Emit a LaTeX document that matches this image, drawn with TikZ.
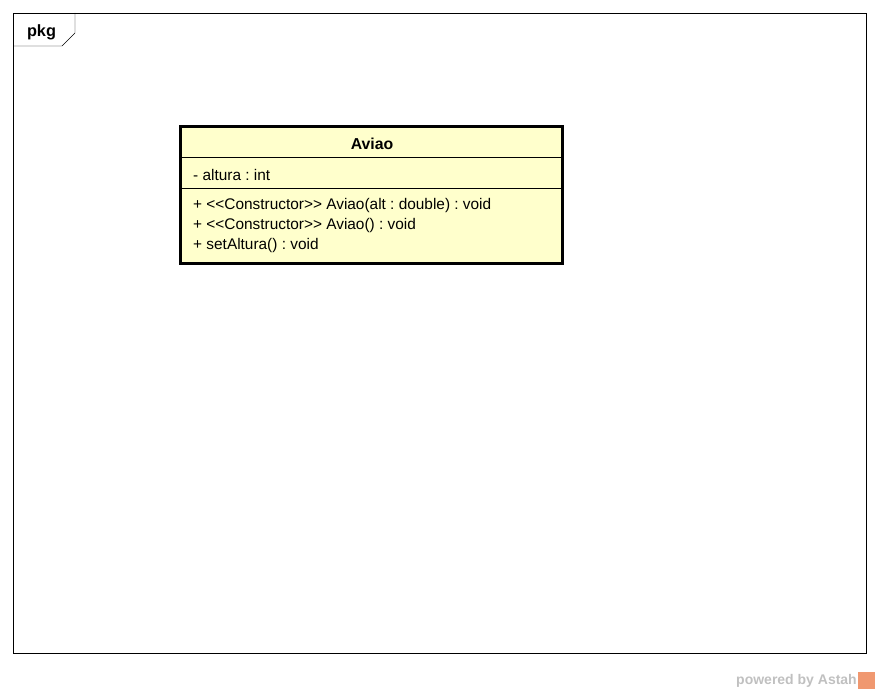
\documentclass[tikz,border=0pt]{standalone}
\usepackage{fontspec}
\setmainfont{Liberation Sans}
\usetikzlibrary{calc}
\definecolor{classfill}{RGB}{255,255,204}
\definecolor{wmgray}{RGB}{192,192,192}
\definecolor{wmorange}{RGB}{240,152,112}
\frenchspacing

\begin{document}
\begin{tikzpicture} [x=1pt, y=-1pt, member/.style={anchor=west, inner sep=0pt, font=\fontsize{15.4}{17}\selectfont}]
\useasboundingbox (0,0) rectangle (880,693);
\draw[black] (13,13) rectangle (866,653);
\draw[black] (13,46)--(62,46)--(75,33)--(75,13);
\node[font=\bfseries\fontsize{16.3}{18}\selectfont] (pkg) at (41.5,32) {pkg};
\draw[black, line width=3pt, fill=classfill] (180,126) rectangle (562,263);
\draw[black] (180,157)--(562,157);
\draw[black] (180,188)--(562,188);
\node[font=\bfseries\fontsize{15.8}{18}\selectfont] (aviao) at (372,144) {Aviao};
\node[member] (altura) at (193,175) {- altura : int};
\foreach \y/\t [count=\i] in {206/{+ <{}<Constructor>{}> Aviao(alt : double) : void},
 226/{+ <{}<Constructor>{}> Aviao() : void}, 246/{+ setAltura() : void}} {
 \node[member] (op\i) at (193,\y) {\t};
}
\node[wmgray, anchor=east, inner sep=0pt, font=\bfseries\fontsize{14}{16}\selectfont] (powered) at (857,681) {powered by Astah};
\fill[wmorange] (858,672) rectangle (875,689);
\end{tikzpicture}
\end{document}
